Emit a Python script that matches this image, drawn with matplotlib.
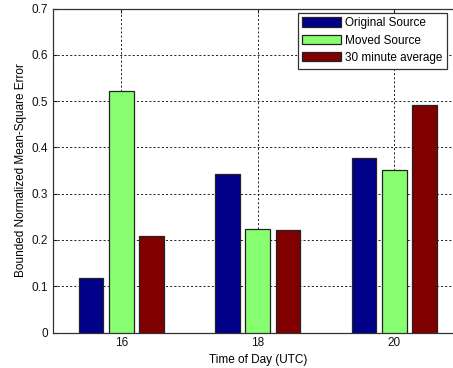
import matplotlib
matplotlib.use("Agg")
import matplotlib.pyplot as plt
import numpy as np

plt.rcParams['font.family'] = ['Liberation Sans', 'DejaVu Sans']

hours = [16, 18, 20]
original = [0.117, 0.342, 0.378]
moved = [0.523, 0.223, 0.352]
avg30 = [0.208, 0.221, 0.491]
series_names = ["Original Source", "Moved Source", "30 minute average"]
colors = ["#000088", "#88ff70", "#800000"]
yticks = [0, 0.1, 0.2, 0.3, 0.4, 0.5, 0.6, 0.7]

fig = plt.figure(figsize=(4.53, 3.68), dpi=100)
ax = fig.add_axes([53/453, 1-332.5/368, (462.5-53)/453, (332.5-8.6)/368])

x = np.array(hours, dtype=float)
offset = 0.445
width = 0.36
for i, (vals, name, c) in enumerate(zip([original, moved, avg30], series_names, colors)):
    ax.bar(x + (i-1)*offset, vals, width=width, color=c, edgecolor='#222222',
           linewidth=0.9, label=name, zorder=3)

ax.set_xlim(15, 21)
ax.set_ylim(0, 0.7)
ax.set_xticks(hours)
ax.set_xticklabels([str(h) for h in hours])
ax.set_yticks(yticks)
ax.set_yticklabels(['0'] + [f"{v:.1f}" for v in yticks[1:]])
ax.set_axisbelow(True)
ax.grid(True, color='black', linestyle=(0, (2.5, 2.5)), linewidth=0.6)
ax.tick_params(direction='in', length=3, labelsize=8.5, top=True, right=True, colors='#222222', labelcolor='#111111')
for s in ax.spines.values():
    s.set_color('#333333')
    s.set_linewidth(0.9)

ax.set_xlabel("Time of Day (UTC)", fontsize=8.5, labelpad=3)
ax.set_ylabel("Bounded Normalized Mean-Square Error", fontsize=8.5, labelpad=3.5)

leg = ax.legend(loc='upper right', bbox_to_anchor=((447-53)/(462.5-53), (332.5-12.5)/(332.5-8.6)),
                fontsize=8.5, fancybox=False, framealpha=1, edgecolor='#333333',
                handlelength=3.3, handleheight=0.85, handletextpad=0.3, labelspacing=0.45,
                borderpad=0.4, borderaxespad=0)
leg.get_frame().set_linewidth(0.9)

fig.savefig("out.png", dpi=100)
